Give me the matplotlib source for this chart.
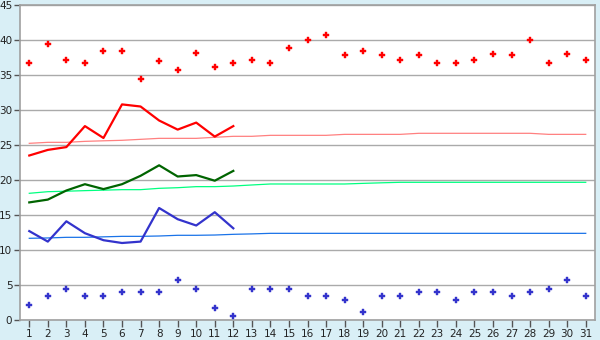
import matplotlib
matplotlib.use("Agg")
import matplotlib.pyplot as plt

days = list(range(1, 32))
days_line = list(range(1, 13))

max_temp = [36.7, 39.4, 37.2, 36.7, 38.4, 38.4, 34.4, 37.0, 35.7, 38.1,
            36.1, 36.7, 37.2, 36.7, 38.9, 40.0, 40.7, 37.8, 38.4, 37.8,
            37.2, 37.8, 36.7, 36.7, 37.2, 38.0, 37.8, 40.0, 36.7, 38.0, 37.2]
min_temp = [2.2, 3.4, 4.4, 3.4, 3.4, 4.0, 4.0, 4.0, 5.7, 4.4,
            1.7, 0.6, 4.4, 4.4, 4.4, 3.4, 3.4, 2.8, 1.1, 3.4,
            3.4, 4.0, 4.0, 2.8, 4.0, 4.0, 3.4, 4.0, 4.4, 5.7, 3.4]

avg_max = [23.5, 24.3, 24.7, 27.7, 26.0, 30.8, 30.5, 28.5, 27.2, 28.2, 26.2, 27.7]
avg_mean = [16.8, 17.2, 18.5, 19.4, 18.7, 19.4, 20.6, 22.1, 20.5, 20.7, 19.9, 21.3]
avg_min = [12.7, 11.2, 14.1, 12.4, 11.4, 11.0, 11.2, 16.0, 14.4, 13.5, 15.4, 13.1]

norm_max = [25.24, 25.38, 25.38, 25.52, 25.60, 25.67, 25.81, 25.95, 25.95, 25.95,
            26.10, 26.24, 26.24, 26.38, 26.38, 26.38, 26.38, 26.52, 26.52, 26.52,
            26.52, 26.67, 26.67, 26.67, 26.67, 26.67, 26.67, 26.67, 26.52, 26.52, 26.52]
norm_mean = [18.10, 18.33, 18.40, 18.48, 18.55, 18.62, 18.62, 18.81, 18.90, 19.05,
             19.05, 19.14, 19.29, 19.43, 19.43, 19.43, 19.43, 19.43, 19.52, 19.60,
             19.67, 19.67, 19.67, 19.67, 19.67, 19.67, 19.67, 19.67, 19.67, 19.67, 19.67]
norm_min = [11.67, 11.72, 11.81, 11.81, 11.88, 11.95, 11.95, 12.00, 12.10, 12.10,
            12.14, 12.24, 12.30, 12.38, 12.38, 12.38, 12.38, 12.38, 12.38, 12.38,
            12.38, 12.38, 12.38, 12.38, 12.38, 12.38, 12.38, 12.38, 12.38, 12.38, 12.38]

bg = "#D9EFF6"
fig = plt.figure(figsize=(6.0, 3.4), dpi=100, facecolor=bg)
ax = fig.add_axes([20/600, 20/340, 575/600, 315/340])
ax.set_facecolor("white")

# trend (normal) lines
ax.plot(days, norm_max, color="#FF8080", lw=0.9, zorder=2)
ax.plot(days, norm_mean, color="#00FF80", lw=0.9, zorder=2)
ax.plot(days, norm_min, color="#1A73E8", lw=0.9, zorder=2)

# monthly lines
ax.plot(days_line, avg_max, color="#FF0000", lw=1.6, zorder=3)
ax.plot(days_line, avg_mean, color="#006400", lw=1.6, zorder=3)
ax.plot(days_line, avg_min, color="#3333CC", lw=1.6, zorder=3)

# markers
ax.plot(days, max_temp, ls="none", marker="P", ms=4.0, color="#FF0000",
        mec="#FF0000", mew=0.3, zorder=4)
ax.plot(days, min_temp, ls="none", marker="P", ms=4.0, color="#3333CC",
        mec="#3333CC", mew=0.3, zorder=4)

ax.set_xlim(0.5, 31.5)
ax.set_ylim(0, 45)
ax.set_xticks(days)
ax.set_xticklabels([str(d) for d in days])
ax.set_yticks(range(0, 46, 5))
ax.grid(axis="y", color="#AAAAAA", lw=1.0, zorder=1)
ax.set_axisbelow(True)
for s in ax.spines.values():
    s.set_color("#A0A0A0")
    s.set_linewidth(1.2)
ax.tick_params(axis="both", colors="#555555", labelcolor="#222222",
               labelsize=7.5, length=4, width=1.0, pad=1.5)
ax.tick_params(axis="x", length=5)

fig.savefig("out.png", dpi=100, facecolor=bg)
